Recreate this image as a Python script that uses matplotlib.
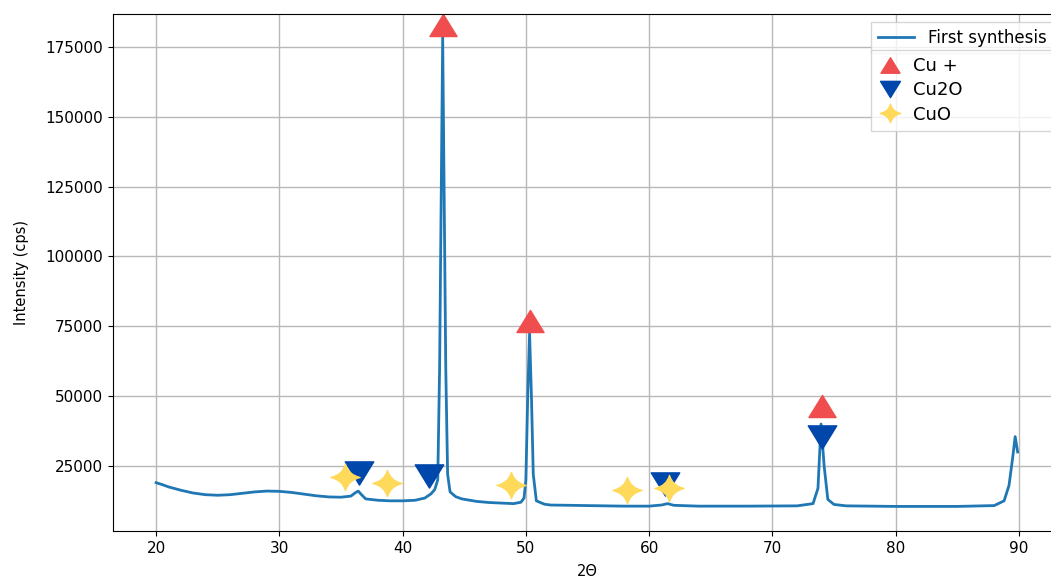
import numpy as np
import matplotlib
matplotlib.use("Agg")
import matplotlib.pyplot as plt
from matplotlib.path import Path
from matplotlib.ticker import MultipleLocator

# ---- data ----
two_theta = [20.0, 20.5, 21.0, 22.0, 23.0, 24.0, 25.0, 26.0, 27.0, 28.0, 29.0, 30.0,
             31.0, 32.0, 33.0, 34.0, 35.0, 35.8, 36.2, 36.4, 36.6, 37.0, 38.0, 39.0,
             40.0, 41.0, 41.8, 42.3, 42.6, 42.85, 43.0, 43.25, 43.5, 43.65, 43.85, 44.3,
             44.8, 46.0, 47.0, 48.0, 49.0, 49.6, 49.85, 50.0, 50.15, 50.3, 50.45, 50.6,
             50.85, 51.5, 52.0, 55.0, 58.0, 60.0, 61.0, 61.5, 62.0, 64.0, 68.0, 72.0,
             73.3, 73.7, 73.95, 74.2, 74.5, 75.0, 76.0, 80.0, 85.0, 88.0, 88.8, 89.2,
             89.5, 89.7, 89.9]
intensity = [19000, 18300, 17500, 16300, 15300, 14700, 14500, 14700, 15200, 15700, 16000, 15900,
             15500, 14900, 14300, 13900, 13800, 14200, 15500, 16000, 15000, 13200, 12700, 12500,
             12500, 12700, 13500, 15000, 16500, 20000, 60000, 178500, 60000, 22000, 15700, 14000,
             13200, 12300, 11900, 11700, 11500, 12000, 13500, 20000, 50000, 72500, 50000, 22000,
             12500, 11300, 11000, 10800, 10600, 10600, 11000, 11500, 10900, 10600, 10600, 10700,
             11500, 17000, 40000, 25000, 13000, 11200, 10700, 10500, 10500, 10800, 12500, 18000,
             28000, 35500, 30000]

cu_x = [43.3, 50.3, 74.0]
cu_y = [183000, 77000, 46500]
cu2o_x = [36.5, 42.1, 61.3, 74.0]
cu2o_y = [22500, 21500, 18500, 35500]
cuo_x = [35.3, 38.7, 48.8, 58.2, 61.6]
cuo_y = [21000, 19000, 18300, 16400, 17000]

series_label = "First synthesis"
marker_labels = ["Cu +", "Cu2O", "CuO"]

# ---- custom marker shapes ----
h = 0.815
tri_up = Path([(-1, -h), (1, -h), (0, h), (-1, -h)],
              [Path.MOVETO, Path.LINETO, Path.LINETO, Path.CLOSEPOLY])
tri_down = Path([(-1, h), (1, h), (0, -h), (-1, h)],
                [Path.MOVETO, Path.LINETO, Path.LINETO, Path.CLOSEPOLY])
k = 0.2
sy = 0.9
star_verts = [(1, 0), (k, k * sy), (0, sy), (-k, k * sy), (-1, 0), (-k, -k * sy), (0, -sy),
              (k, -k * sy), (1, 0), (1, 0)]
star_codes = [Path.MOVETO, Path.CURVE3, Path.CURVE3, Path.CURVE3, Path.CURVE3,
              Path.CURVE3, Path.CURVE3, Path.CURVE3, Path.CURVE3, Path.CLOSEPOLY]
star = Path(star_verts, star_codes)

fig = plt.figure(figsize=(10.51, 5.79), dpi=100)
ax = fig.add_axes([113 / 1051, 1 - 531 / 579, 949 / 1051, 517 / 579])
ax.spines["right"].set_visible(False)

line, = ax.plot(two_theta, intensity, color="#1f77b4", lw=2.0, label=series_label)
h1, = ax.plot(cu_x, cu_y, ls="none", marker=tri_up, ms=19.5, color="#F04E4E", label=marker_labels[0])
h2, = ax.plot(cu2o_x, cu2o_y, ls="none", marker=tri_down, ms=20.5, color="#0047AB", label=marker_labels[1])
h3, = ax.plot(cuo_x, cuo_y, ls="none", marker=star, ms=21, color="#FFD95A", label=marker_labels[2])

ax.set_xlim(16.5, 93.5)
ax.set_ylim(1700, 186800)
ax.xaxis.set_major_locator(MultipleLocator(10))
ax.yaxis.set_major_locator(MultipleLocator(25000))
ax.tick_params(labelsize=11)
ax.grid(True, color="#b8b8b8", lw=1.0)
ax.set_xlabel("2Θ", fontsize=10.5, labelpad=6)
ax.set_ylabel("Intensity (cps)", fontsize=10.5, labelpad=12)

x0 = (871 - 113) / 949
w = (1060 - 871) / 949
leg1 = ax.legend(handles=[line], loc="upper left", mode="expand",
                 bbox_to_anchor=(x0, 1 - (22 - 14) / 517, w, 0.0001),
                 fontsize=12, borderaxespad=0, fancybox=False, handlelength=2.2)
ax.add_artist(leg1)
leg2 = ax.legend(handles=[h1, h2, h3], loc="upper left", mode="expand",
                 bbox_to_anchor=(x0, 1 - (50 - 14) / 517, w, 0.0001),
                 fontsize=13, markerscale=0.7, borderaxespad=0, fancybox=False,
                 handlelength=1.3, handletextpad=0.6, labelspacing=0.35)

fig.savefig("out.png", dpi=100)
